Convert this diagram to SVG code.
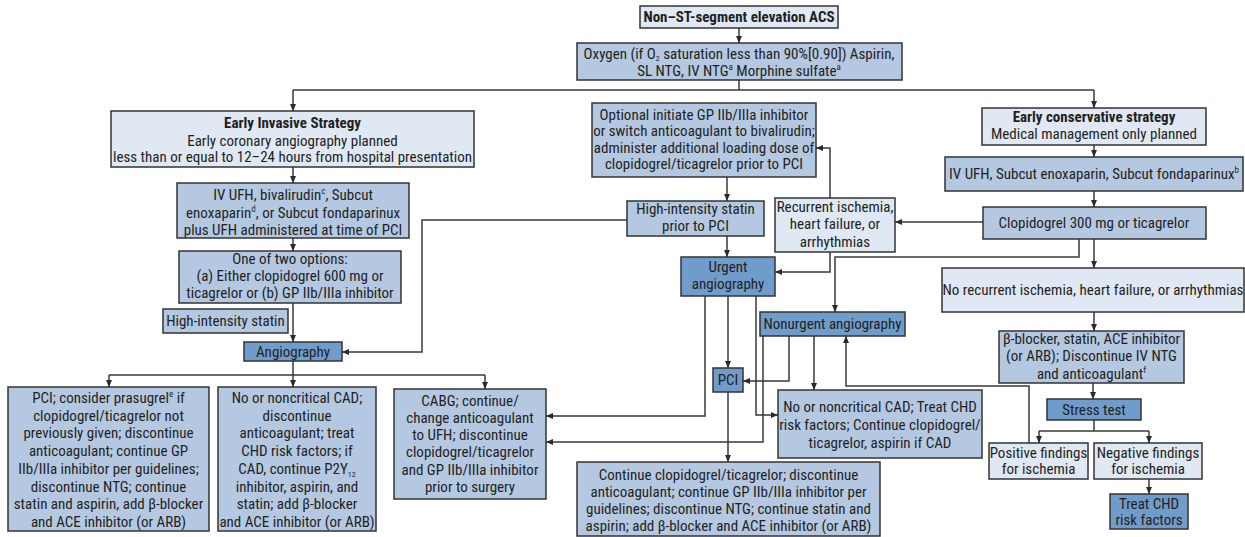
<svg xmlns="http://www.w3.org/2000/svg" width="1245" height="537" viewBox="0 0 1245 537">
<style>
  .box rect { stroke:#333; stroke-width:1.5; }
  .m rect { fill:#b4c8e2; }
  .l rect { fill:#dfe8f3; }
  .d rect { fill:#6f9cca; }
  text { font-family:"Liberation Sans Narrow","Roboto Condensed","Liberation Sans",sans-serif; font-size:15px; fill:#231f20; text-anchor:middle; }
  .b { font-weight:bold; }
  .sup { font-size:9px; }
  .sub { font-size:8px; }
  #connectors path { fill:none; stroke:#3a3a3a; stroke-width:1.5; }
  #connectors .ar { marker-end:url(#arrow); }
</style>
<defs>
  <marker id="arrow" markerUnits="userSpaceOnUse" markerWidth="8" markerHeight="7" refX="7" refY="3.5" orient="auto">
    <path d="M0,0.5 L7,3.5 L0,6.5 z" fill="#2a2a2a"/>
  </marker>
</defs>
<rect width="1245" height="537" fill="#ffffff"/>

<g id="connectors">
  <path class="ar" d="M739,28 V43"/>
  <path d="M739,80 V90 M293,90 H1094"/>
  <path class="ar" d="M293,90 V111"/>
  <path class="ar" d="M1094,90 V108"/>
  <path class="ar" d="M293,167 V183"/>
  <path class="ar" d="M293,238 V251"/>
  <path class="ar" d="M293,303 V342"/>
  <path class="ar" d="M627,220 H422 V352 H342"/>
  <path d="M293,361 V375 M109,375 H485"/>
  <path class="ar" d="M109,375 V387"/>
  <path class="ar" d="M293,375 V387"/>
  <path class="ar" d="M485,375 V389"/>
  <path class="ar" d="M727,177 V201"/>
  <path class="ar" d="M727,236 V257"/>
  <path class="ar" d="M830,198 V148 H816"/>
  <path class="ar" d="M830,252 V272 H775"/>
  <path class="ar" d="M983,222 H895"/>
  <path class="ar" d="M1079,239 V257 H835 V312"/>
  <path class="ar" d="M1094,239 V268"/>
  <path class="ar" d="M1094,145 V157"/>
  <path class="ar" d="M1094,191 V207"/>
  <path class="ar" d="M1094,312 V331"/>
  <path class="ar" d="M1093,383 V399"/>
  <path d="M1094,420 V431 M1039,431 H1149"/>
  <path class="ar" d="M1039,431 V443"/>
  <path class="ar" d="M1149,431 V443"/>
  <path class="ar" d="M1149,479 V494"/>
  <path class="ar" d="M1029,443 V386 H846 V336"/>
  <path class="ar" d="M705,296 V416 H546"/>
  <path class="ar" d="M728,296 V368"/>
  <path class="ar" d="M756,296 V415 H778"/>
  <path class="ar" d="M763,336 V442 H546"/>
  <path class="ar" d="M789,336 V381 H743"/>
  <path class="ar" d="M814,336 V390"/>
  <path class="ar" d="M728,392 V462"/>
</g>

<g id="acs" class="box l">
  <rect x="640" y="6" width="198" height="22"/>
  <text x="739" y="22" class="b">Non–ST-segment elevation ACS</text>
</g>
<g id="oxygen" class="box m">
  <rect x="577" y="43" width="325" height="37"/>
  <text x="739" y="59">Oxygen (if O<tspan class="sub" dy="2">2</tspan><tspan dy="-2"> saturation less than 90%[0.90]) Aspirin,</tspan></text>
  <text x="739" y="76">SL NTG, IV NTG<tspan class="sup" dy="-6">a</tspan><tspan dy="6"> Morphine sulfate</tspan><tspan class="sup" dy="-6">a</tspan></text>
</g>
<g id="early-invasive" class="box l">
  <rect x="111" y="111" width="363" height="56"/>
  <text x="292.5" y="128" class="b">Early Invasive Strategy</text>
  <text x="292.5" y="146">Early coronary angiography planned</text>
  <text x="292.5" y="162">less than or equal to 12–24 hours from hospital presentation</text>
</g>
<g id="optional-gp" class="box m">
  <rect x="592" y="103" width="224" height="74"/>
  <text x="704" y="120">Optional initiate GP IIb/IIIa inhibitor</text>
  <text x="704" y="136">or switch anticoagulant to bivalirudin;</text>
  <text x="704" y="153">administer additional loading dose of</text>
  <text x="704" y="169">clopidogrel/ticagrelor prior to PCI</text>
</g>
<g id="early-conservative" class="box l">
  <rect x="982" y="108" width="224" height="37"/>
  <text x="1094" y="122" class="b">Early conservative strategy</text>
  <text x="1094" y="139">Medical management only planned</text>
</g>
<g id="anticoag-conservative" class="box m">
  <rect x="945" y="157" width="298" height="34"/>
  <text x="1094" y="179">IV UFH, Subcut enoxaparin, Subcut fondaparinux<tspan class="sup" dy="-6">b</tspan></text>
</g>
<g id="anticoag-invasive" class="box m">
  <rect x="177" y="183" width="232" height="55"/>
  <text x="293" y="200">IV UFH, bivalirudin<tspan class="sup" dy="-6">c</tspan><tspan dy="6">, Subcut</tspan></text>
  <text x="293" y="218">enoxaparin<tspan class="sup" dy="-6">d</tspan><tspan dy="6">, or Subcut fondaparinux</tspan></text>
  <text x="293" y="235">plus UFH administered at time of PCI</text>
</g>
<g id="statin-prior-pci" class="box m">
  <rect x="627" y="201" width="137" height="35"/>
  <text x="695.5" y="214">High-intensity statin</text>
  <text x="695.5" y="231">prior to PCI</text>
</g>
<g id="recurrent" class="box l">
  <rect x="775" y="198" width="120" height="54"/>
  <text x="835" y="212">Recurrent ischemia,</text>
  <text x="835" y="229">heart failure, or</text>
  <text x="835" y="247">arrhythmias</text>
</g>
<g id="clopidogrel-300" class="box m">
  <rect x="983" y="207" width="223" height="32"/>
  <text x="1094" y="228">Clopidogrel 300 mg or ticagrelor</text>
</g>
<g id="two-options" class="box m">
  <rect x="179" y="251" width="222" height="52"/>
  <text x="290" y="264">One of two options:</text>
  <text x="290" y="281">(a) Either clopidogrel 600 mg or</text>
  <text x="290" y="298">ticagrelor or (b) GP IIb/IIIa inhibitor</text>
</g>
<g id="urgent-angiography" class="box d">
  <rect x="681" y="257" width="94" height="39"/>
  <text x="728" y="272">Urgent</text>
  <text x="728" y="289">angiography</text>
</g>
<g id="no-recurrent" class="box l">
  <rect x="942" y="268" width="302" height="44"/>
  <text x="1093" y="295">No recurrent ischemia, heart failure, or arrhythmias</text>
</g>
<g id="statin" class="box m">
  <rect x="163" y="309" width="125" height="24"/>
  <text x="225.5" y="326">High-intensity statin</text>
</g>
<g id="nonurgent-angiography" class="box d">
  <rect x="760" y="312" width="145" height="24"/>
  <text x="832.5" y="329">Nonurgent angiography</text>
</g>
<g id="beta-blocker" class="box m">
  <rect x="999" y="331" width="185" height="52"/>
  <text x="1091.5" y="344">β-blocker, statin, ACE inhibitor</text>
  <text x="1091.5" y="361">(or ARB); Discontinue IV NTG</text>
  <text x="1091.5" y="379">and anticoagulant<tspan class="sup" dy="-6">f</tspan></text>
</g>
<g id="angiography" class="box d">
  <rect x="244" y="342" width="98" height="19"/>
  <text x="293" y="357">Angiography</text>
</g>
<g id="pci" class="box d">
  <rect x="713" y="368" width="30" height="24"/>
  <text x="728" y="385">PCI</text>
</g>
<g id="stress-test" class="box d">
  <rect x="1047" y="399" width="94" height="21"/>
  <text x="1094" y="415">Stress test</text>
</g>
<g id="pci-invasive" class="box m">
  <rect x="8" y="387" width="201" height="144"/>
  <text x="108.5" y="403">PCI; consider prasugrel<tspan class="sup" dy="-6">e</tspan><tspan dy="6"> if</tspan></text>
  <text x="108.5" y="420.7">clopidogrel/ticagrelor not</text>
  <text x="108.5" y="438.4">previously given; discontinue</text>
  <text x="108.5" y="456.1">anticoagulant; continue GP</text>
  <text x="108.5" y="473.8">IIb/IIIa inhibitor per guidelines;</text>
  <text x="108.5" y="491.5">discontinue NTG; continue</text>
  <text x="108.5" y="509.2">statin and aspirin, add β-blocker</text>
  <text x="108.5" y="527">and ACE inhibitor (or ARB)</text>
</g>
<g id="no-cad-invasive" class="box m">
  <rect x="218" y="387" width="158" height="144"/>
  <text x="297" y="403">No or noncritical CAD;</text>
  <text x="297" y="420.7">discontinue</text>
  <text x="297" y="438.4">anticoagulant; treat</text>
  <text x="297" y="456.1">CHD risk factors; if</text>
  <text x="297" y="473.8">CAD, continue P2Y<tspan class="sub" dy="3">12</tspan></text>
  <text x="297" y="491.5">inhibitor, aspirin, and</text>
  <text x="297" y="509.2">statin; add β-blocker</text>
  <text x="297" y="527">and ACE inhibitor (or ARB)</text>
</g>
<g id="cabg" class="box m">
  <rect x="394" y="389" width="152" height="110"/>
  <text x="470" y="405.5">CABG; continue/</text>
  <text x="470" y="422.8">change anticoagulant</text>
  <text x="470" y="440.1">to UFH; discontinue</text>
  <text x="470" y="457.4">clopidogrel/ticagrelor</text>
  <text x="470" y="474.7">and GP IIb/IIIa inhibitor</text>
  <text x="470" y="492">prior to surgery</text>
</g>
<g id="no-cad-nonurgent" class="box m">
  <rect x="778" y="390" width="204" height="68"/>
  <text x="880" y="411.5">No or noncritical CAD; Treat CHD</text>
  <text x="880" y="429.5">risk factors; Continue clopidogrel/</text>
  <text x="880" y="447.5">ticagrelor, aspirin if CAD</text>
</g>
<g id="positive" class="box l">
  <rect x="989" y="443" width="99" height="36"/>
  <text x="1038.5" y="457.5">Positive findings</text>
  <text x="1038.5" y="473.5">for ischemia</text>
</g>
<g id="negative" class="box l">
  <rect x="1094" y="443" width="108" height="36"/>
  <text x="1148" y="457.5">Negative findings</text>
  <text x="1148" y="473.5">for ischemia</text>
</g>
<g id="treat-chd" class="box d">
  <rect x="1110" y="494" width="78" height="35"/>
  <text x="1149" y="508.5">Treat CHD</text>
  <text x="1149" y="524.5">risk factors</text>
</g>
<g id="continue-pci" class="box m">
  <rect x="577" y="462" width="303" height="74"/>
  <text x="728.5" y="479.5">Continue clopidogrel/ticagrelor; discontinue</text>
  <text x="728.5" y="496.5">anticoagulant; continue GP IIb/IIIa inhibitor per</text>
  <text x="728.5" y="513.5">guidelines; discontinue NTG; continue statin and</text>
  <text x="728.5" y="530.5">aspirin; add β-blocker and ACE inhibitor (or ARB)</text>
</g>
</svg>
